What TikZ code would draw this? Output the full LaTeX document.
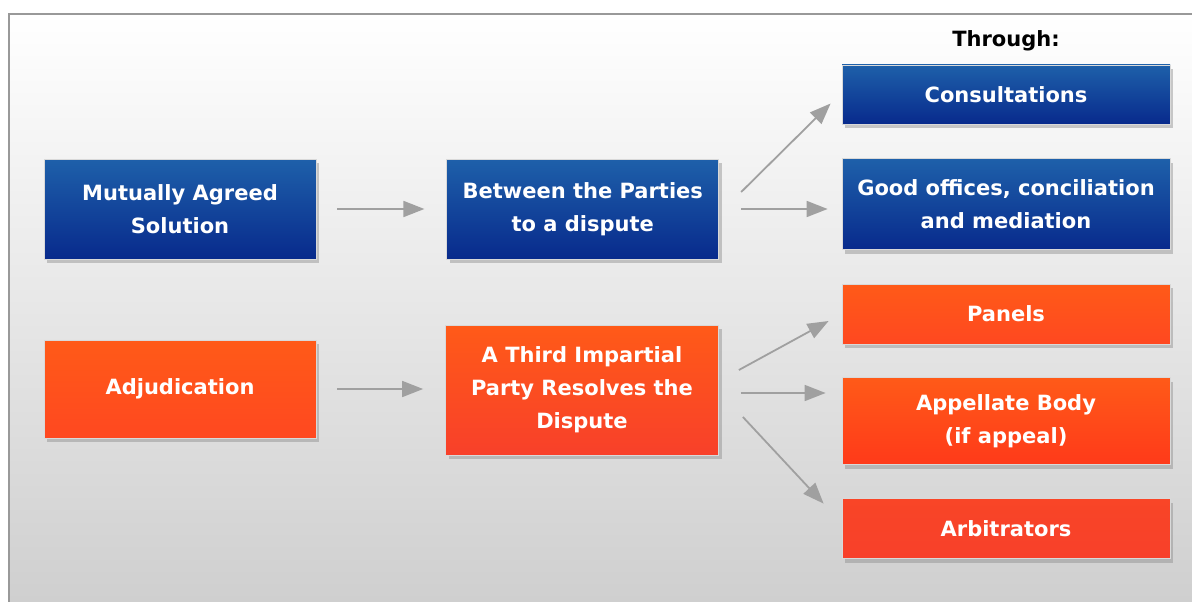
\documentclass[tikz,border=0pt]{standalone}
\usepackage{fontspec}
\setmainfont{DejaVu Sans}
\usetikzlibrary{arrows.meta, positioning, calc, shadows}

\definecolor{blueTop}{RGB}{30,96,170}
\definecolor{blueBot}{RGB}{8,42,140}
\definecolor{orgTop}{RGB}{255,90,24}
\definecolor{orgBot}{RGB}{255,72,32}
\definecolor{redBox}{RGB}{248,64,42}
\definecolor{arrowGray}{RGB}{160,160,160}
\definecolor{bgBot}{RGB}{207,207,207}

\begin{document}
\begin{tikzpicture}[
		x=1pt, y=1pt,
		% box styles
		box/.style = {rectangle, draw=white!85!black, line width=0.8pt, align=center, text=white,
			font=\fontsize{21}{33}\selectfont\bfseries,
			drop shadow={shadow xshift=3pt, shadow yshift=-4pt, fill=black!45, opacity=0.45}},
		bluebox/.style = {box, top color=blueTop, bottom color=blueBot},
		orgbox/.style = {box, top color=orgTop, bottom color=orgBot},
		redbox/.style = {box, top color=redBox!92!orange, bottom color=redBox},
		conn/.style = {draw=arrowGray, line width=1.8pt, -{Triangle[length=21pt, width=16pt]}}
		]

		% --- BACKGROUND ---
		\useasboundingbox (0,0) rectangle (1192,-602);
		\fill[white] (0,0) rectangle (1192,-602);
		\shade[top color=white, bottom color=bgBot] (8,-13) rectangle (1192,-602);
		\draw[black!40, line width=2pt] (9,-602) |- (1192,-14);

		% --- LEFT COLUMN ---
		\node [bluebox, minimum width=272, minimum height=100] (mas) at (180,-209) {Mutually Agreed\\Solution};
		\node [orgbox, minimum width=272, minimum height=98] (adj) at (180,-389) {Adjudication};

		% --- MIDDLE COLUMN ---
		\node [bluebox, minimum width=272, minimum height=100, right=130 of mas] (parties) {Between the Parties\\to a dispute};
		\node [orgbox, minimum width=273, minimum height=130, top color=orgTop, bottom color=redBox] (third) at (582,-390)
			{A Third Impartial\\Party Resolves the\\Dispute};

		% --- RIGHT COLUMN ---
		\node [font=\fontsize{21}{24}\selectfont\bfseries] (through) at (1006,-41) {Through:};
		\node [bluebox, minimum width=328, minimum height=59] (consult) at (1006,-94.5) {Consultations};
		\node [bluebox, minimum width=328, minimum height=91, below=34 of consult] (good)
			{Good offices, conciliation\\and mediation};
		\node [orgbox, minimum width=328, minimum height=60] (panels) at (1006,-314) {Panels};
		\node [orgbox, minimum width=328, minimum height=87, below=33 of panels, bottom color=orgBot!80!red] (appeal)
			{Appellate Body\\(if appeal)};
		\node [redbox, minimum width=328, minimum height=60, below=33 of appeal] (arbit) {Arbitrators};

		% --- CONNECTIONS ---
		\draw [conn, shorten <=21pt, shorten >=22pt] (mas) -- (parties);
		\draw [conn, shorten <=21pt, shorten >=22pt] (adj.east) -- (adj.east -| third.west);

		\coordinate (p_up) at ($(parties.east)+(22,17)$);
		\coordinate (c_in) at ($(consult.west)+(-11,-9)$);
		\draw [conn] (p_up) -- (c_in);
		\draw [conn, shorten <=22pt, shorten >=14pt] (parties.east) -- (parties.east -| good.west);

		\coordinate (t_up) at ($(third.east)+(20,20)$);
		\coordinate (pn_in) at ($(panels.west)+(-13,-7)$);
		\draw [conn] (t_up) -- (pn_in);
		\coordinate (t_mid) at ($(third.east)+(22,-3)$);
		\draw [conn, shorten >=16pt] (t_mid) -- (t_mid -| appeal.west);
		\coordinate (t_low) at ($(third.east)+(24,-27)$);
		\coordinate (ar_in) at ($(arbit.west)+(-18,25)$);
		\draw [conn] (t_low) -- (ar_in);

	\end{tikzpicture}
\end{document}
